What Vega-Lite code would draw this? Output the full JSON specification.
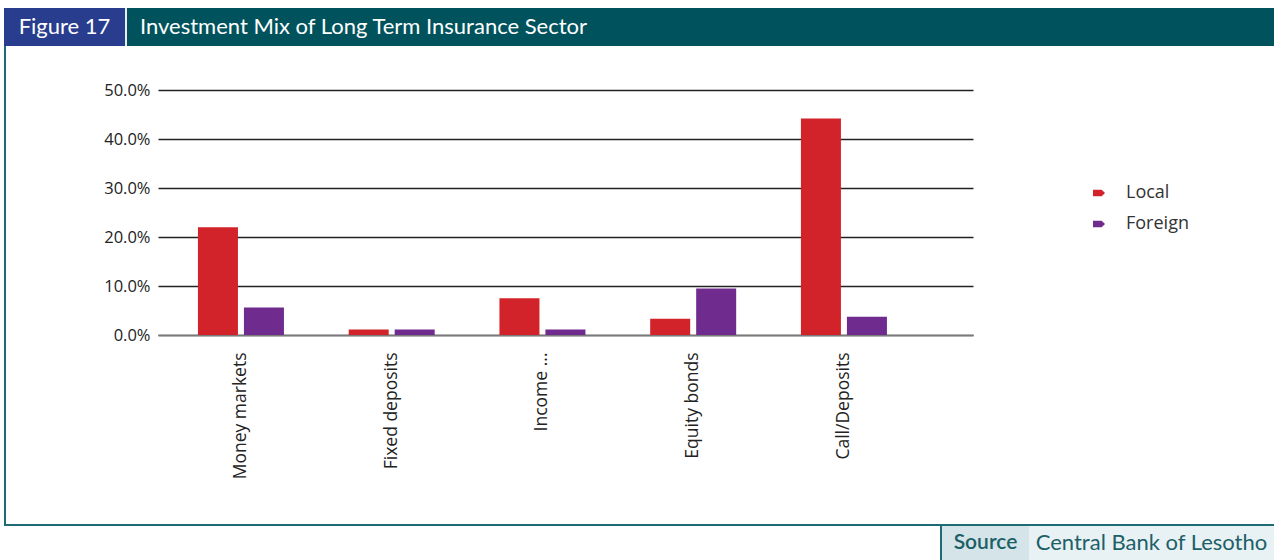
{
  "$schema": "https://vega.github.io/schema/vega-lite/v6.json",
  "background": "white",
  "padding": {"left": 4, "top": 8, "right": 0, "bottom": 0},
  "config": {
    "view": {"stroke": null},
    "font": "Open Sans"
  },
  "columns": 1,
  "align": "none",
  "spacing": 0,
  "concat": [
    {
      "columns": 4,
      "align": "none",
      "spacing": 0,
      "concat": [
        {
          "width": 121, "height": 38,
          "view": {"fill": "#283d8e", "stroke": null},
          "data": {"values": [{"t": "Figure 17"}]},
          "mark": {"type": "text", "font": "Lato", "fontSize": 22, "color": "white", "align": "center", "baseline": "middle"},
          "encoding": {"text": {"field": "t"}}
        },
        {
          "width": 2, "height": 38,
          "view": {"fill": "#e8eef0", "stroke": null},
          "data": {"values": []},
          "mark": "point",
          "encoding": {}
        },
        {
          "width": 473, "height": 38,
          "view": {"fill": "#00535c", "stroke": null},
          "data": {"values": [{"t": "Investment Mix of Long Term Insurance Sector"}]},
          "mark": {"type": "text", "font": "Lato", "fontSize": 22, "color": "white", "align": "center", "baseline": "middle"},
          "encoding": {"text": {"field": "t"}}
        },
        {
          "width": 674, "height": 38,
          "view": {"fill": "#00535c", "stroke": null},
          "data": {"values": []},
          "mark": "point",
          "encoding": {}
        }
      ]
    },
    {
      "columns": 2,
      "align": "none",
      "spacing": 97,
      "concat": [
        {
          "width": 2, "height": 478,
          "view": {"fill": "#1d6b73", "stroke": null},
          "data": {"values": []},
          "mark": "point",
          "encoding": {}
        },
        {
          "columns": 1,
          "align": "none",
          "spacing": 0,
          "concat": [
            {
              "width": 815, "height": 36,
              "data": {"values": []},
              "mark": "point",
              "encoding": {}
            },
            {
              "width": 815, "height": 245,
              "data": {"values": [
                {"category": "Money markets", "series": "Local", "value": 0.220},
                {"category": "Money markets", "series": "Foreign", "value": 0.056},
                {"category": "Fixed deposits", "series": "Local", "value": 0.011},
                {"category": "Fixed deposits", "series": "Foreign", "value": 0.011},
                {"category": "Income ...", "series": "Local", "value": 0.075},
                {"category": "Income ...", "series": "Foreign", "value": 0.011},
                {"category": "Equity bonds", "series": "Local", "value": 0.033},
                {"category": "Equity bonds", "series": "Foreign", "value": 0.095},
                {"category": "Call/Deposits", "series": "Local", "value": 0.442},
                {"category": "Call/Deposits", "series": "Foreign", "value": 0.037}
              ]},
              "mark": {"type": "bar"},
              "encoding": {
                "x": {
                  "field": "category", "type": "nominal",
                  "sort": ["Money markets", "Fixed deposits", "Income ...", "Equity bonds", "Call/Deposits"],
                  "scale": {"paddingInner": 0.4295, "paddingOuter": 0.418, "align": 0.317},
                  "axis": {
                    "title": null,
                    "labelAngle": 270,
                    "labelAlign": "right",
                    "labelBaseline": "middle",
                    "labelFontSize": 17.5,
                    "labelColor": "#222",
                    "labelPadding": 17,
                    "labelLimit": 300,
                    "ticks": false,
                    "domain": true,
                    "domainColor": "#7a7a7a",
                    "domainWidth": 1.5,
                    "grid": false
                  }
                },
                "xOffset": {
                  "field": "series", "type": "nominal",
                  "sort": ["Local", "Foreign"],
                  "scale": {"paddingInner": 0.13, "paddingOuter": 0}
                },
                "y": {
                  "field": "value", "type": "quantitative",
                  "scale": {"domain": [0, 0.5]},
                  "axis": {
                    "title": null,
                    "format": ".1%",
                    "values": [0, 0.1, 0.2, 0.3, 0.4, 0.5],
                    "labelFontSize": 16.5,
                    "labelColor": "#222",
                    "labelPadding": 8,
                    "ticks": false,
                    "domain": false,
                    "grid": true,
                    "gridColor": "#222",
                    "gridWidth": 1.3
                  }
                },
                "color": {
                  "field": "series", "type": "nominal",
                  "scale": {"domain": ["Local", "Foreign"], "range": ["#d2232a", "#6f2b8e"]},
                  "legend": {
                    "title": null,
                    "orient": "none",
                    "legendX": 1086,
                    "legendY": 176,
                    "padding": 0,
                    "symbolType": "M-1,-0.55L0.45,-0.55L1,0L0.45,0.55L-1,0.55Z",
                    "symbolSize": 144,
                    "symbolStrokeWidth": 0,
                    "labelFontSize": 18,
                    "labelColor": "#333",
                    "labelOffset": 18,
                    "rowPadding": 13
                  }
                }
              }
            }
          ]
        }
      ]
    },
    {
      "width": 1270, "height": 2,
      "view": {"fill": "#1d6b73", "stroke": null},
      "data": {"values": []},
      "mark": "point",
      "encoding": {}
    },
    {
      "columns": 4,
      "align": "none",
      "spacing": 0,
      "concat": [
        {
          "width": 936, "height": 34,
          "data": {"values": []},
          "mark": "point",
          "encoding": {}
        },
        {
          "width": 2, "height": 34,
          "view": {"fill": "#1d6b73", "stroke": null},
          "data": {"values": []},
          "mark": "point",
          "encoding": {}
        },
        {
          "width": 87, "height": 34,
          "view": {"fill": "#d4e4e9", "stroke": null},
          "data": {"values": [{"t": "Source"}]},
          "mark": {"type": "text", "font": "Lato", "fontSize": 21, "fontWeight": 600, "color": "#1d5f67", "align": "center", "baseline": "middle"},
          "encoding": {"text": {"field": "t"}}
        },
        {
          "width": 245, "height": 34,
          "view": {"fill": "#e8f2f4", "stroke": null},
          "data": {"values": [{"t": "Central Bank of Lesotho"}]},
          "mark": {"type": "text", "font": "Lato", "fontSize": 22, "color": "#1d6068", "align": "center", "baseline": "middle"},
          "encoding": {"text": {"field": "t"}}
        }
      ]
    }
  ]
}
